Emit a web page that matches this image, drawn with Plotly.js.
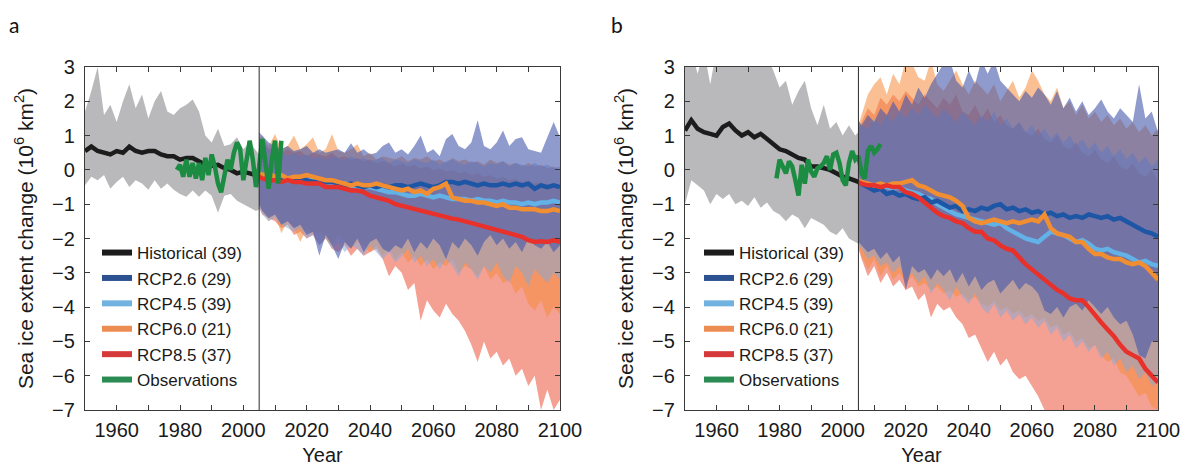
<!DOCTYPE html>
<html>
<head>
<meta charset="utf-8">
<script src="https://cdn.plot.ly/plotly-3.0.1.min.js"></script>
<style>html,body{margin:0;padding:0;background:#fff;}#chart{width:1185px;height:466px;}</style>
</head>
<body>
<div id="chart"></div>
<script>
// ---------------- DATA ----------------
const splitYear = 2005;
const histYears = [1950,1952,1954,1956,1958,1960,1962,1964,1966,1968,1970,1972,1974,1976,1978,1980,1982,1984,1986,1988,1990,1992,1994,1996,1998,2000,2002,2004,2005];
const obsYears = [1979,1980,1981,1982,1983,1984,1985,1986,1987,1988,1989,1990,1991,1992,1993,1994,1995,1996,1997,1998,1999,2000,2001,2002,2003,2004,2005,2006,2007,2008,2009,2010,2011,2012];
const futYears = [2005,2006,2008,2010,2012,2014,2016,2018,2020,2022,
  2024,2026,2028,2030,2032,2034,2036,2038,2040,2042,
  2044,2046,2048,2050,2052,2054,2056,2058,2060,2062,
  2064,2066,2068,2070,2072,2074,2076,2078,2080,2082,
  2084,2086,2088,2090,2092,2094,2096,2098,2100];

// Panel a
const aHistMean = [0.55,0.68,0.55,0.5,0.45,0.55,0.5,0.68,0.55,0.5, 0.55,0.55,0.45,0.4,0.4,0.3,0.35,0.35,0.25,0.15, 0.12,0.15,0.05,0.0,-0.1,-0.05,-0.1,-0.15,-0.18];
const aHistHi = [1.7,2.3,3.0,1.6,1.9,1.4,2.0,2.5,1.8,2.2, 1.5,2.0,2.3,1.7,1.6,1.8,1.9,2.05,1.7,1.0, 0.8,1.2,0.7,0.75,0.95,0.6,0.8,0.55,0.45];
const aHistLo = [-0.45,-0.2,-0.3,-0.15,-0.55,-0.35,-0.2,-0.5,-0.3,-0.4, -0.58,-0.3,-0.55,-0.4,-0.58,-0.7,-0.78,-0.6,-0.78,-0.6, -0.75,-1.25,-0.75,-0.7,-0.9,-1.0,-1.1,-1.2,-1.15];
const aObs = [0.0,0.15,-0.2,0.3,-0.2,0.2,-0.25,0.2,-0.3,0.35, -0.15,0.45,0.1,-0.4,-0.65,-0.1,0.3,0.0,0.5,0.8, 0.6,-0.3,0.2,0.85,0.3,-0.5,0.1,0.9,0.2,-0.55, 0.3,0.85,-0.4,0.85];
const aRcp26 = [-0.15,-0.2,-0.25,-0.2,-0.3,-0.25,-0.3,-0.3,-0.3,-0.35,
  -0.3,-0.35,-0.35,-0.4,-0.45,-0.4,-0.45,-0.5,-0.45,-0.5,
  -0.45,-0.5,-0.45,-0.45,-0.5,-0.45,-0.4,-0.45,-0.5,-0.45,
  -0.35,-0.35,-0.4,-0.35,-0.4,-0.45,-0.4,-0.45,-0.45,-0.4,
  -0.45,-0.4,-0.45,-0.4,-0.55,-0.45,-0.5,-0.45,-0.5];
const aRcp45 = [-0.15,-0.2,-0.25,-0.2,-0.25,-0.3,-0.3,-0.25,-0.3,-0.3,
  -0.35,-0.35,-0.4,-0.4,-0.4,-0.45,-0.5,-0.5,-0.5,-0.55,
  -0.6,-0.65,-0.65,-0.7,-0.75,-0.75,-0.7,-0.75,-0.8,-0.75,
  -0.8,-0.85,-0.85,-0.85,-0.9,-0.85,-0.9,-0.9,-0.95,-0.9,
  -0.95,-0.95,-1.0,-0.95,-1.0,-0.95,-0.95,-0.9,-0.95];
const aRcp60 = [-0.1,-0.15,-0.1,-0.2,-0.15,-0.25,-0.2,-0.2,-0.15,-0.2,
  -0.25,-0.3,-0.3,-0.35,-0.4,-0.45,-0.4,-0.45,-0.45,-0.4,
  -0.45,-0.5,-0.55,-0.6,-0.55,-0.65,-0.6,-0.7,-0.55,-0.5,
  -0.4,-0.8,-0.85,-0.9,-0.9,-0.95,-0.95,-1.0,-1.05,-1.0,
  -1.1,-1.1,-1.15,-1.15,-1.15,-1.2,-1.2,-1.15,-1.2];
const aRcp85 = [-0.2,-0.25,-0.3,-0.3,-0.35,-0.3,-0.35,-0.35,-0.4,-0.4,
  -0.4,-0.5,-0.5,-0.5,-0.55,-0.6,-0.6,-0.65,-0.75,-0.8,
  -0.88,-0.9,-1.0,-1.05,-1.1,-1.15,-1.2,-1.25,-1.3,-1.35,
  -1.4,-1.42,-1.45,-1.5,-1.55,-1.6,-1.65,-1.72,-1.78,-1.82,
  -1.85,-1.9,-1.95,-2.05,-2.1,-2.08,-2.1,-2.05,-2.1];
const a26Hi = [1.1,1.0,0.8,0.7,0.6,0.7,0.55,0.6,0.7,0.5,
  0.6,0.5,0.55,0.6,0.5,0.78,0.5,0.6,0.45,0.5,
  0.7,0.8,0.5,0.6,0.45,0.7,1.0,0.5,0.6,0.4,
  0.9,1.05,0.7,0.6,0.8,1.45,0.7,0.6,0.8,1.15,
  0.7,0.9,0.95,0.6,0.55,0.5,0.95,1.4,0.95];
const a26Lo = [-1.0,-1.2,-1.4,-1.3,-1.6,-1.5,-1.7,-1.6,-1.9,-1.8,
  -2.5,-1.9,-2.2,-2.6,-2.1,-2.3,-2.0,-2.4,-2.1,-2.0,
  -2.3,-2.4,-2.2,-2.3,-2.0,-2.4,-2.1,-2.3,-2.0,-2.2,
  -2.6,-2.1,-2.3,-2.0,-2.2,-2.5,-2.1,-1.9,-2.2,-2.0,
  -2.3,-2.1,-2.4,-2.0,-2.2,-2.3,-2.1,-2.4,-2.2];
const a45Hi = [0.8,0.9,0.6,0.5,0.55,0.4,0.5,0.4,0.45,0.35,
  0.4,0.3,0.4,0.35,0.3,0.4,0.3,0.35,0.25,0.3,
  0.35,0.2,0.3,0.25,0.2,0.3,0.25,0.2,0.3,0.15,
  0.25,0.3,0.2,0.15,0.25,0.2,0.1,0.2,0.15,0.25,
  0.1,0.2,0.15,0.1,0.2,0.1,0.15,0.05,0.1];
const a45Lo = [-1.1,-1.3,-1.5,-1.4,-1.6,-1.7,-1.8,-1.7,-2.0,-1.9,
  -2.2,-2.0,-2.3,-2.1,-2.4,-2.2,-2.3,-2.5,-2.2,-2.4,
  -2.6,-2.4,-2.7,-2.5,-2.3,-2.7,-2.5,-2.8,-2.6,-2.9,
  -2.6,-2.8,-3.1,-2.7,-2.9,-3.2,-2.8,-3.0,-2.7,-3.1,
  -3.3,-2.8,-3.0,-3.4,-2.9,-3.1,-3.3,-3.0,-3.2];
const a60Hi = [0.9,1.0,0.7,1.05,0.6,0.7,1.0,0.6,0.75,0.95,
  0.5,0.6,1.05,0.55,0.5,0.6,0.75,0.4,0.5,0.3,
  0.4,0.35,0.3,0.4,0.25,0.35,0.3,0.4,0.25,0.3,
  0.2,0.35,0.25,0.3,0.2,0.25,0.15,0.3,0.2,0.25,
  0.15,0.2,0.1,0.2,0.1,0.15,0.05,0.1,0.0];
const a60Lo = [-1.0,-1.2,-1.5,-1.3,-1.85,-1.5,-1.7,-2.1,-1.7,-1.9,
  -1.8,-2.0,-2.2,-1.9,-2.1,-2.3,-2.1,-2.2,-2.4,-2.2,
  -2.5,-2.3,-2.6,-2.4,-2.7,-2.5,-2.8,-2.6,-2.9,-2.7,
  -2.8,-2.6,-3.0,-2.8,-2.9,-3.1,-2.8,-3.2,-3.0,-3.3,
  -3.2,-3.6,-3.4,-3.9,-4.1,-3.8,-4.3,-4.0,-4.2];
const a85Hi = [0.7,0.8,0.6,0.7,0.5,0.6,0.5,0.55,0.4,0.5,
  0.45,0.4,0.5,0.35,0.4,0.3,0.35,0.25,0.3,0.2,
  0.25,0.2,0.1,0.2,0.1,0.15,0.05,0.1,0.0,0.05,
  -0.05,0.0,-0.1,-0.05,-0.15,-0.1,-0.2,-0.15,-0.25,-0.2,
  -0.3,-0.25,-0.35,-0.3,-0.4,-0.35,-0.45,-0.4,-0.5];
const a85Lo = [-1.1,-1.3,-1.4,-1.5,-1.7,-1.6,-1.9,-1.8,-2.0,-1.9,
  -2.2,-2.0,-2.3,-2.4,-2.2,-2.5,-2.3,-2.5,-2.4,-2.3,
  -2.6,-3.1,-2.8,-3.0,-3.5,-3.3,-4.4,-3.8,-4.1,-4.3,
  -3.9,-4.2,-4.4,-4.7,-5.1,-5.6,-5.0,-5.5,-5.3,-5.7,
  -5.5,-6.0,-5.8,-6.3,-6.0,-7.0,-6.4,-7.0,-6.7];

// Panel b
const bHistMean = [1.15,1.45,1.2,1.1,1.05,1.0,1.25,1.35,1.15,1.0, 1.1,0.95,1.05,0.9,0.75,0.6,0.55,0.45,0.35,0.3, 0.1,0.1,0.05,0.0,-0.1,-0.2,-0.25,-0.3,-0.35];
const bHistHi = [3.5,3.5,2.8,3.5,2.5,3.5,3.5,3.5,3.5,3.5, 3.5,3.5,3.5,3.3,2.9,2.4,2.6,1.9,2.3,2.6, 1.8,1.3,1.9,1.2,1.4,1.0,1.3,1.0,1.1];
const bHistLo = [-1.0,-0.3,-0.45,-0.6,-1.0,-0.7,-0.85,-0.7,-1.0,-0.9, -1.05,-0.8,-1.1,-0.95,-1.2,-1.3,-1.5,-1.3,-1.4,-1.7, -1.4,-1.5,-1.6,-1.8,-1.9,-1.7,-2.0,-2.1,-2.15];
const bObs = [-0.25,0.3,0.1,-0.1,0.25,0.1,-0.3,-0.75,0.15,-0.4, 0.3,-0.05,-0.2,0.05,0.1,0.2,0.4,0.0,0.45,0.5, 0.2,-0.3,-0.45,0.2,0.55,0.3,0.4,-0.1,-0.25,0.55, 0.7,0.5,0.6,0.75];
const bRcp26 = [-0.35,-0.4,-0.5,-0.6,-0.55,-0.7,-0.65,-0.75,-0.7,-0.8,
  -0.85,-0.8,-0.95,-0.9,-1.0,-1.1,-1.05,-1.2,-1.15,-1.2,
  -1.1,-1.15,-1.05,-1.0,-1.15,-1.1,-1.2,-1.15,-1.25,-1.2,
  -1.3,-1.25,-1.35,-1.3,-1.4,-1.35,-1.4,-1.3,-1.35,-1.4,
  -1.35,-1.45,-1.4,-1.5,-1.6,-1.7,-1.8,-1.85,-1.95];
const bRcp45 = [-0.35,-0.4,-0.45,-0.5,-0.45,-0.5,-0.55,-0.5,-0.6,-0.65,
  -0.7,-0.8,-0.85,-1.0,-1.1,-1.2,-1.3,-1.35,-1.4,-1.45,
  -1.5,-1.55,-1.6,-1.55,-1.7,-1.8,-1.9,-2.0,-2.05,-2.1,
  -1.95,-1.8,-1.85,-1.9,-2.0,-2.1,-2.05,-2.15,-2.3,-2.35,
  -2.3,-2.4,-2.45,-2.5,-2.6,-2.7,-2.65,-2.75,-2.8];
const bRcp60 = [-0.3,-0.35,-0.4,-0.45,-0.4,-0.45,-0.4,-0.4,-0.35,-0.3,
  -0.45,-0.5,-0.6,-0.7,-0.75,-0.8,-0.9,-1.05,-1.4,-1.5,
  -1.55,-1.5,-1.45,-1.5,-1.55,-1.5,-1.55,-1.5,-1.45,-1.5,
  -1.3,-1.7,-1.85,-1.9,-1.95,-2.1,-2.1,-2.3,-2.45,-2.45,
  -2.55,-2.6,-2.6,-2.7,-2.75,-2.7,-2.8,-3.0,-3.2];
const bRcp85 = [-0.35,-0.4,-0.45,-0.45,-0.5,-0.45,-0.5,-0.5,-0.65,-0.7,
  -0.8,-0.95,-1.1,-1.25,-1.35,-1.4,-1.5,-1.55,-1.7,-1.8,
  -1.8,-2.0,-2.05,-2.2,-2.3,-2.35,-2.55,-2.75,-2.9,-3.05,
  -3.2,-3.35,-3.5,-3.6,-3.75,-3.8,-3.8,-4.0,-4.25,-4.45,
  -4.65,-4.85,-5.1,-5.3,-5.4,-5.5,-5.8,-6.0,-6.2];
const b26Hi = [1.45,1.3,1.6,1.4,1.8,1.6,2.0,1.7,2.2,1.9,
  2.4,2.1,2.5,2.8,3.1,3.2,2.6,2.4,2.9,2.5,
  3.2,2.8,3.2,2.6,2.4,2.2,2.0,2.3,2.1,2.4,
  2.2,1.9,2.3,1.8,2.1,1.7,2.0,1.6,1.8,2.05,
  1.7,1.5,1.8,1.6,1.4,2.5,1.5,1.7,1.1];
const b26Lo = [-2.1,-2.2,-2.4,-2.3,-2.6,-2.4,-2.7,-2.5,-3.5,-2.8,
  -3.0,-2.9,-3.2,-2.9,-3.1,-2.9,-3.3,-3.0,-3.4,-3.1,
  -3.5,-3.3,-3.2,-3.6,-3.4,-3.2,-3.5,-3.3,-3.4,-3.6,
  -4.1,-4.2,-4.0,-4.3,-4.0,-3.9,-4.1,-3.8,-4.0,-4.2,
  -4.0,-4.3,-4.5,-4.4,-4.8,-5.4,-5.5,-5.0,-5.0];
const b45Hi = [1.2,1.3,1.2,1.5,1.3,1.6,1.4,1.7,1.5,1.8,
  1.6,1.9,1.7,1.5,1.8,1.6,1.4,1.7,1.5,1.3,
  1.6,1.4,1.7,1.3,1.5,1.2,1.4,1.1,1.3,1.0,
  1.2,0.9,1.1,0.8,1.0,0.7,0.9,0.6,0.8,0.5,
  0.7,0.4,0.6,0.3,0.5,0.2,0.4,0.1,0.3];
const b45Lo = [-2.2,-2.3,-2.6,-2.5,-2.8,-2.7,-3.0,-2.8,-3.2,-3.0,
  -3.3,-3.1,-3.6,-3.3,-3.5,-3.8,-3.4,-3.7,-3.9,-3.6,
  -4.0,-4.2,-3.9,-4.3,-4.1,-4.4,-4.2,-4.5,-4.3,-4.6,
  -4.4,-4.8,-4.6,-5.0,-4.8,-5.2,-5.0,-5.3,-5.1,-5.5,
  -5.3,-5.7,-5.5,-5.9,-5.7,-6.1,-5.9,-6.3,-6.2];
const b60Hi = [1.3,1.6,2.2,2.5,2.7,2.2,2.8,2.5,3.2,3.1,
  2.7,2.6,3.2,2.5,2.3,2.6,2.9,2.5,2.2,2.6,
  2.4,2.2,2.5,2.0,2.3,2.6,2.1,2.4,2.9,2.6,
  2.2,2.0,2.4,1.8,2.0,1.6,1.9,1.5,1.7,1.4,
  1.6,1.3,1.5,1.2,1.4,1.1,1.3,1.0,1.2];
const b60Lo = [-2.2,-2.5,-2.9,-2.6,-3.1,-2.8,-3.2,-3.0,-3.3,-3.1,
  -3.4,-3.3,-3.5,-3.4,-3.6,-3.5,-3.7,-3.6,-3.8,-3.7,
  -3.9,-4.0,-3.8,-4.1,-4.0,-4.2,-4.1,-4.3,-4.2,-4.4,
  -4.3,-4.6,-4.5,-4.8,-4.7,-5.0,-4.9,-5.2,-5.1,-5.4,
  -5.6,-5.5,-5.9,-6.0,-6.3,-6.6,-6.5,-6.9,-7.0];
const b85Hi = [1.2,1.4,1.8,1.6,2.1,1.9,2.2,2.0,2.3,2.1,
  1.9,2.2,2.0,1.8,2.1,1.9,2.2,1.7,1.6,1.9,
  1.5,1.8,1.4,1.6,1.3,1.2,1.4,1.1,1.0,1.2,
  0.9,0.8,1.0,0.7,0.6,0.8,0.5,0.4,0.6,0.3,
  0.2,0.4,0.1,0.0,0.2,-0.1,-0.2,0.0,-0.3];
const b85Lo = [-2.3,-2.6,-3.1,-2.8,-3.3,-3.0,-3.4,-3.2,-3.5,-3.4,
  -3.8,-3.6,-4.3,-3.9,-4.1,-4.0,-4.3,-4.5,-4.9,-4.8,
  -5.2,-5.6,-5.3,-5.7,-5.5,-5.9,-6.1,-6.0,-6.3,-6.6,
  -7.0,-7.3,-7.5,-7.5,-7.5,-7.5,-7.5,-7.5,-7.5,-7.5,
  -7.5,-7.5,-7.5,-7.5,-7.5,-7.5,-7.5,-7.5,-7.5];

const seriesNames = ['Historical (39)','RCP2.6 (29)','RCP4.5 (39)','RCP6.0 (21)','RCP8.5 (37)','Observations'];
const xTickVals = [1960,1980,2000,2020,2040,2060,2080,2100];
const yTickVals = [3,2,1,0,-1,-2,-3,-4,-5,-6,-7];

// ---------------- STYLE ----------------
const lineColors = {hist:'#1c1c1c', r26:'#1e56a6', r45:'#62b2e8', r60:'#f28e32', r85:'#e8312b', obs:'#1b8c42'};
const legendColors = {hist:'#1c1c1c', r26:'#2c5190', r45:'#72b2e0', r60:'#ec8c52', r85:'#d6393a', obs:'#2a8c52'};
const bandColors = {
  hist:'rgba(185,185,187,1)',
  r85:'rgba(240,120,100,0.70)',
  r60:'rgba(245,140,60,0.55)',
  r45:'rgba(130,170,220,0.50)',
  r26:'rgba(68,87,172,0.60)'
};
const LW = 4.5;

function band(x, lo, hi, color, xa, ya) {
  return [
    {x:x, y:lo, type:'scatter', mode:'lines', line:{width:0, color:color}, showlegend:false, hoverinfo:'skip', xaxis:xa, yaxis:ya},
    {x:x, y:hi, type:'scatter', mode:'lines', fill:'tonexty', fillcolor:color, line:{width:0, color:color}, showlegend:false, hoverinfo:'skip', xaxis:xa, yaxis:ya}
  ];
}
function line(x, y, color, name, rank, xa, ya, leg, suffix) {
  return {x:x, y:y, type:'scatter', mode:'lines', line:{width:LW, color:color}, name:name,
    legendgroup:name+suffix, legendrank:rank, legend:leg, showlegend:false, hoverinfo:'skip', xaxis:xa, yaxis:ya};
}
function legendEntry(color, name, rank, xa, ya, leg, suffix) {
  return {x:[null], y:[null], type:'scatter', mode:'lines', line:{width:6, color:color}, name:name,
    legendgroup:name+suffix, legendrank:rank, legend:leg, showlegend:true, hoverinfo:'skip', xaxis:xa, yaxis:ya};
}

function panel(d, xa, ya, leg, suffix) {
  let t = [];
  t = t.concat(band(histYears, d.histLo, d.histHi, bandColors.hist, xa, ya));
  t = t.concat(band(futYears, d.lo85, d.hi85, bandColors.r85, xa, ya));
  t = t.concat(band(futYears, d.lo60, d.hi60, bandColors.r60, xa, ya));
  t = t.concat(band(futYears, d.lo45, d.hi45, bandColors.r45, xa, ya));
  t = t.concat(band(futYears, d.lo26, d.hi26, bandColors.r26, xa, ya));
  t.push(line(futYears, d.m45, lineColors.r45, seriesNames[2], 3, xa, ya, leg, suffix));
  t.push(line(futYears, d.m26, lineColors.r26, seriesNames[1], 2, xa, ya, leg, suffix));
  t.push(line(futYears, d.m60, lineColors.r60, seriesNames[3], 4, xa, ya, leg, suffix));
  t.push(line(futYears, d.m85, lineColors.r85, seriesNames[4], 5, xa, ya, leg, suffix));
  t.push(line(histYears, d.histMean, lineColors.hist, seriesNames[0], 1, xa, ya, leg, suffix));
  t.push(line(obsYears, d.obs, lineColors.obs, seriesNames[5], 6, xa, ya, leg, suffix));
  const keys = ['hist','r26','r45','r60','r85','obs'];
  keys.forEach((k,i) => t.push(legendEntry(legendColors[k], seriesNames[i], i+1, xa, ya, leg, suffix)));
  return t;
}

const traces = [].concat(
  panel({histMean:aHistMean, histHi:aHistHi, histLo:aHistLo, obs:aObs,
    m26:aRcp26, m45:aRcp45, m60:aRcp60, m85:aRcp85,
    hi26:a26Hi, lo26:a26Lo, hi45:a45Hi, lo45:a45Lo, hi60:a60Hi, lo60:a60Lo, hi85:a85Hi, lo85:a85Lo}, 'x', 'y', 'legend', 'a'),
  panel({histMean:bHistMean, histHi:bHistHi, histLo:bHistLo, obs:bObs,
    m26:bRcp26, m45:bRcp45, m60:bRcp60, m85:bRcp85,
    hi26:b26Hi, lo26:b26Lo, hi45:b45Hi, lo45:b45Lo, hi60:b60Hi, lo60:b60Lo, hi85:b85Hi, lo85:b85Lo}, 'x2', 'y2', 'legend2', 'b')
);

const FONT = '"Liberation Sans", Arial, Helvetica, sans-serif';
const tickFont = {family:FONT, size:20, color:'#1a1a1a'};
const axisLine = '#3a3a3a';

function xAxis(domain, anchor) {
  return {domain:domain, anchor:anchor, range:[1950,2100], autorange:false,
    tickmode:'array', tickvals:xTickVals, ticks:'inside', ticklen:5, tickwidth:1, tickcolor:axisLine,
    minor:{dtick:10, tick0:1950, ticks:'inside', ticklen:5, tickwidth:1, tickcolor:axisLine},
    showline:true, linecolor:axisLine, linewidth:1.2, mirror:'ticks', showgrid:false, zeroline:false,
    tickfont:tickFont, ticklabelstandoff:2, automargin:false, fixedrange:true,
    title:{text:'Year', font:{family:FONT, size:20, color:'#1a1a1a'}, standoff:7}};
}
function yAxis(domain, anchor) {
  return {domain:domain, anchor:anchor, range:[-7,3], autorange:false,
    tickmode:'array', tickvals:yTickVals, ticks:'inside', ticklen:5, tickwidth:1, tickcolor:axisLine,
    showline:true, linecolor:axisLine, linewidth:1.2, mirror:'ticks', showgrid:false, zeroline:false,
    tickfont:tickFont, ticklabelstandoff:5, automargin:false, fixedrange:true,
    title:{text:'Sea ice extent change (10<sup>6</sup> km<sup>2</sup>)', font:{family:FONT, size:21, color:'#1a1a1a'}, standoff:12}};
}

const W = 1185, H = 466;
const xdA = [85/W, 560/W], xdB = [685/W, 1158/W];
const yd = [1-410/H, 1-67/H];

const legendBase = {xanchor:'left', yanchor:'top', bgcolor:'rgba(0,0,0,0)', borderwidth:0,
  font:{family:FONT, size:17, color:'#1a1a1a'}, tracegroupgap:0.3, itemwidth:30, itemclick:false, itemdoubleclick:false};

const layout = {
  width:W, height:H, margin:{l:0, r:0, t:0, b:0},
  paper_bgcolor:'#ffffff', plot_bgcolor:'#ffffff',
  showlegend:true,
  xaxis:xAxis(xdA,'y'), yaxis:yAxis(yd,'x'),
  xaxis2:xAxis(xdB,'y2'), yaxis2:yAxis(yd,'x2'),
  legend:Object.assign({}, legendBase, {x:97/W, y:1-235/H}),
  legend2:Object.assign({}, legendBase, {x:699/W, y:1-235/H}),
  shapes:[
    {type:'line', xref:'x', yref:'y domain', x0:splitYear, x1:splitYear, y0:0, y1:1, line:{color:'#2a2a2a', width:1}},
    {type:'line', xref:'x2', yref:'y2 domain', x0:splitYear, x1:splitYear, y0:0, y1:1, line:{color:'#2a2a2a', width:1}}
  ],
  annotations:[
    {text:'a', xref:'paper', yref:'paper', x:7/W, y:1-24/H, xanchor:'left', yanchor:'middle', showarrow:false, font:{family:'Lato, "Open Sans", sans-serif', size:21, color:'#111'}},
    {text:'b', xref:'paper', yref:'paper', x:609/W, y:1-24/H, xanchor:'left', yanchor:'middle', showarrow:false, font:{family:'Lato, "Open Sans", sans-serif', size:21, color:'#111'}}
  ]
};

Plotly.newPlot('chart', traces, layout, {displayModeBar:false, staticPlot:true});
</script>
</body>
</html>
